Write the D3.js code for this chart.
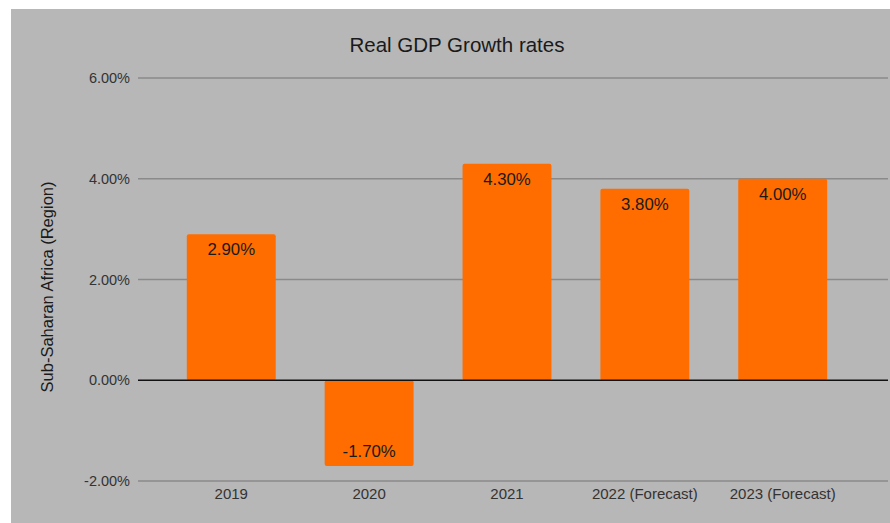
<!DOCTYPE html>
<html>
<head>
<meta charset="utf-8">
<script src="https://cdn.jsdelivr.net/npm/d3@7"></script>
<style>
  html, body { margin: 0; padding: 0; background: #ffffff; }
  svg { display: block; font-family: Arial, "Liberation Sans", sans-serif; }
</style>
</head>
<body>
<svg id="chart" width="890" height="523"></svg>
<script>
// Real GDP growth, Sub-Saharan Africa
const categories = ["2019", "2020", "2021", "2022 (Forecast)", "2023 (Forecast)"];
const growth = [2.9, -1.7, 4.3, 3.8, 4.0];
const yTicks = [-2, 0, 2, 4, 6];
const chartTitle = "Real GDP Growth rates";
const yTitle = "Sub-Saharan Africa (Region)";

const svg = d3.select("#chart");

// panel background
svg.append("rect")
  .attr("x", 11).attr("y", 9)
  .attr("width", 879).attr("height", 514)
  .attr("fill", "#b7b7b7");

const gridLeft = 138, gridRight = 888;
const y = d3.scaleLinear().domain([-2, 6]).range([481, 78]);
const x = d3.scaleBand().domain(categories).range([162, 852]).paddingInner(0.355).paddingOuter(0.18);

const fmt = v => v.toFixed(2) + "%";

// horizontal gridlines
svg.append("g").selectAll("line")
  .data(yTicks.filter(t => t !== 0))
  .join("line")
  .attr("x1", gridLeft).attr("x2", gridRight)
  .attr("y1", d => y(d)).attr("y2", d => y(d))
  .attr("stroke", "#8a8a8a").attr("stroke-width", 1.3);

// y tick labels
svg.append("g").selectAll("text")
  .data(yTicks)
  .join("text")
  .attr("x", 130).attr("y", d => y(d))
  .attr("dy", "0.35em")
  .attr("text-anchor", "end")
  .attr("font-size", 14.5)
  .attr("fill", "#333333")
  .text(d => fmt(d));

// bars
svg.append("g").selectAll("rect")
  .data(growth)
  .join("rect")
  .attr("x", (d, i) => x(categories[i]))
  .attr("width", x.bandwidth())
  .attr("y", d => y(Math.max(0, d)))
  .attr("height", d => Math.abs(y(d) - y(0)))
  .attr("rx", 2)
  .attr("fill", "#ff6d00");

// zero baseline
svg.append("line")
  .attr("x1", gridLeft).attr("x2", gridRight)
  .attr("y1", y(0)).attr("y2", y(0))
  .attr("stroke", "#111111").attr("stroke-width", 1.3);

// value labels inside bar ends
svg.append("g").selectAll("text")
  .data(growth)
  .join("text")
  .attr("x", (d, i) => x(categories[i]) + x.bandwidth() / 2)
  .attr("y", d => d >= 0 ? y(d) + 21 : y(d) - 9)
  .attr("text-anchor", "middle")
  .attr("font-size", 16.8)
  .attr("fill", "#1a1a1a")
  .text(d => fmt(d));

// category labels
svg.append("g").selectAll("text")
  .data(categories)
  .join("text")
  .attr("x", d => x(d) + x.bandwidth() / 2)
  .attr("y", 499)
  .attr("text-anchor", "middle")
  .attr("font-size", 15)
  .attr("fill", "#333333")
  .text(d => d);

// chart title
svg.append("text")
  .attr("x", 457).attr("y", 52)
  .attr("text-anchor", "middle")
  .attr("font-size", 20.5)
  .attr("fill", "#1a1a1a")
  .text(chartTitle);

// y axis title
svg.append("text")
  .attr("transform", "translate(53,287) rotate(-90)")
  .attr("text-anchor", "middle")
  .attr("font-size", 16.5)
  .attr("fill", "#1a1a1a")
  .text(yTitle);
</script>
</body>
</html>
